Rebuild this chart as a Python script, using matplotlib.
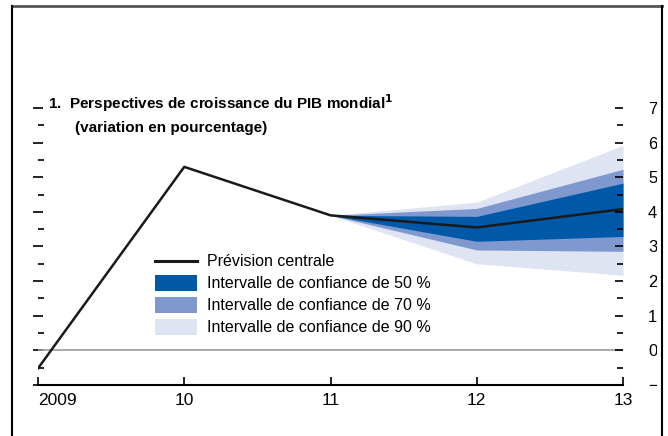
import matplotlib.pyplot as plt
import numpy as np
from matplotlib.patches import Rectangle
from matplotlib.lines import Line2D

# Data
years = [2009, 2010, 2011, 2012, 2013]
central = [-0.52, 5.3, 3.9, 3.55, 4.08]

fan_years = [2011, 2012, 2013]
upper_90 = [3.9, 4.28, 5.92]
lower_90 = [3.9, 2.5, 2.17]
upper_70 = [3.9, 4.1, 5.23]
lower_70 = [3.9, 2.9, 2.86]
upper_50 = [3.9, 3.87, 4.83]
lower_50 = [3.9, 3.15, 3.29]

tick_labels = ['2009', '10', '11', '12', '13']
y_labels = ['\u22121', '0', '1', '2', '3', '4', '5', '6', '7']
legend_labels = ['Prévision centrale',
                 'Intervalle de confiance de 50 %',
                 'Intervalle de confiance de 70 %',
                 'Intervalle de confiance de 90 %']

c50 = '#0059a8'
c70 = '#7f99cf'
c90 = '#dfe4f2'

plt.rcParams['font.family'] = ['Liberation Sans', 'DejaVu Sans']

fig = plt.figure(figsize=(6.68, 4.36), dpi=100)
ax = fig.add_axes([38 / 668, 1 - 385 / 436, 585 / 668, (385 - 108) / 436])

ax.fill_between(fan_years, lower_90, upper_90, color=c90, lw=0)
ax.fill_between(fan_years, lower_70, upper_70, color=c70, lw=0)
ax.fill_between(fan_years, lower_50, upper_50, color=c50, lw=0)
ax.axhline(0, color='#999999', lw=1.2)
ax.plot(years, central, color='#1a1a1a', lw=1.8)

ax.set_xlim(2009, 2013)
ax.set_ylim(-1, 7)
for s in ['left', 'right', 'top']:
    ax.spines[s].set_visible(False)
ax.spines['bottom'].set_linewidth(1.5)
ax.set_xticks(years)
ax.set_xticklabels(tick_labels, fontsize=12.5)
ax.get_xticklabels()[0].set_horizontalalignment('left')
ax.tick_params(axis='x', direction='in', length=6, width=1.2, pad=6)

# left ticks, no labels
ax.set_yticks(np.arange(-1, 8, 1))
ax.set_yticks(np.arange(-0.5, 7, 1), minor=True)
ax.tick_params(axis='y', which='major', direction='inout', length=7, width=1.2,
               labelleft=False)
ax.tick_params(axis='y', which='minor', direction='in', length=4, width=1.2)

# right ticks with labels
ax2 = ax.twinx()
ax2.set_ylim(-1, 7)
for s in ['left', 'right', 'top', 'bottom']:
    ax2.spines[s].set_visible(False)
ax2.set_yticks(np.arange(-1, 8, 1))
ax2.set_yticks(np.arange(-0.5, 7, 1), minor=True)
ax2.set_yticklabels(y_labels)
ax2.tick_params(axis='y', which='major', direction='in', length=6, width=1.2,
                labelsize=12, pad=18)
ax2.tick_params(axis='y', which='minor', direction='in', length=4, width=1.2)

fig.text(48 / 668, 1 - 103 / 436, '1.  Perspectives de croissance du PIB mondial$^{\\mathbf{1}}$',
         fontsize=11, fontweight='bold', va='center', ha='left')
fig.text(75 / 668, 1 - 128 / 436, '(variation en pourcentage)',
         fontsize=11, fontweight='bold', va='center', ha='left')

# legend drawn by hand
lx0, lx1, tx = 155 / 668, 197 / 668, 207 / 668
ys = [261, 283, 305, 327]
fig.add_artist(Line2D([lx0, lx1], [1 - ys[0] / 436] * 2, color='#1a1a1a', lw=2.2))
for yy, col in zip(ys[1:], [c50, c70, c90]):
    fig.add_artist(Rectangle((lx0, 1 - (yy + 8) / 436), lx1 - lx0, 16 / 436,
                             color=col, lw=0))
for yy, lab in zip(ys, legend_labels):
    fig.text(tx, 1 - yy / 436, lab, fontsize=11.5, va='center', ha='left')

# clip labels at right edge as in the source, then the frame
fig.add_artist(Rectangle((657 / 668, 0), 11 / 668, 1, color='white', lw=0, zorder=5))
fig.add_artist(Line2D([11.5 / 668, 662 / 668], [1 - 6.5 / 436] * 2, color='#555555', lw=2, zorder=6))
fig.add_artist(Line2D([11.5 / 668] * 2, [0, 1 - 6.5 / 436], color='black', lw=1.5, zorder=6))
fig.add_artist(Line2D([662 / 668] * 2, [0, 1 - 6.5 / 436], color='black', lw=1.5, zorder=6))

fig.savefig('out.png', dpi=100)
